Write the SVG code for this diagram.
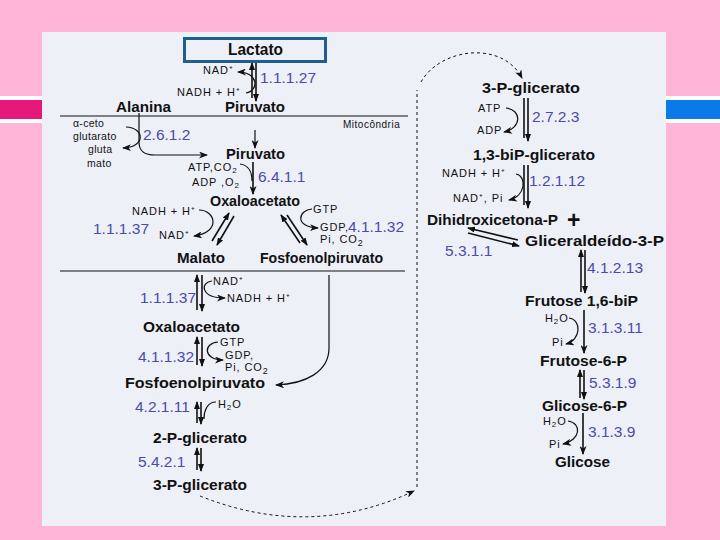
<svg xmlns="http://www.w3.org/2000/svg" width="720" height="540" viewBox="0 0 720 540">
<defs>
<style>
text{font-family:"Liberation Sans",Arial,sans-serif}
.b{font-weight:bold;font-size:15px;fill:#111}
.s{font-size:11px;letter-spacing:0.9px;fill:#111}
.ec{font-size:15.5px;fill:#4b4bab}
.ln{stroke:#111;stroke-width:1.2;fill:none}
.rx{stroke:#111;stroke-width:1.6;fill:none}
.ds{stroke:#111;stroke-width:1;fill:none;stroke-dasharray:3,3}
</style>
<marker id="a" markerUnits="userSpaceOnUse" markerWidth="9" markerHeight="7" refX="8" refY="3.5" orient="auto">
<path d="M0,0 L9,3.5 L0,7 L2.5,3.5 z" fill="#111"/>
</marker>
<marker id="h" markerUnits="userSpaceOnUse" markerWidth="8" markerHeight="6" refX="7" refY="3" orient="auto">
<path d="M0,0 L8,3 L0,6 z" fill="#111"/>
</marker>
</defs>
<g id="background">
<rect x="0" y="0" width="720" height="540" fill="#ffb5d8"/>
<rect x="0" y="96" width="720" height="27" fill="#ffffff"/>
<rect x="0" y="100" width="42" height="19" fill="#e6197a"/>
<rect x="666" y="100" width="54" height="19" fill="#0a7be6"/>
<rect x="42" y="32" width="624" height="494" fill="#eef0f8"/>
</g>
<g id="compartments">
<line x1="60" y1="116" x2="408" y2="116" stroke="#111" stroke-width="1.2"/>
<line x1="60" y1="271" x2="405" y2="271" stroke="#111" stroke-width="1.2"/>
<text class="s" x="343" y="128" style="font-size:10px;letter-spacing:0.5px">Mitocôndria</text>
</g>
<g id="connectors">
<line class="rx" x1="252" y1="98" x2="252" y2="63" marker-end="url(#h)"/>
<line class="rx" x1="256" y1="63" x2="256" y2="101" marker-end="url(#h)"/>
<path class="ln" d="M246,93 C259,91 259,72 238,72" marker-end="url(#a)"/>
<path class="ln" d="M139,113 L139,142 C139,152 145,155 155,155 L207,155" marker-end="url(#a)"/>
<path class="ln" d="M126,127 C145,128 146,147 123,148" marker-end="url(#a)"/>
<line class="ln" x1="255" y1="130" x2="255" y2="148" marker-end="url(#a)"/>
<line class="rx" x1="253" y1="162" x2="253" y2="194" stroke-width="2" marker-end="url(#a)"/>
<path class="ln" d="M240,164 C249,165 252,173 252,181"/>
<line class="rx" x1="212" y1="241" x2="229" y2="213" marker-end="url(#h)"/>
<line class="rx" x1="234" y1="216" x2="217" y2="245" marker-end="url(#h)"/>
<path class="ln" d="M199,210 C215,210 222,232 194,236" marker-end="url(#a)"/>
<line class="rx" x1="300" y1="243" x2="281" y2="215" marker-end="url(#h)"/>
<line class="rx" x1="287" y1="215" x2="307" y2="245" marker-end="url(#h)"/>
<path class="ln" d="M312,209 C298,210 294,227 318,228" marker-end="url(#a)"/>
<line class="rx" x1="197" y1="310" x2="197" y2="275" marker-end="url(#h)"/>
<line class="rx" x1="202" y1="275" x2="202" y2="311" marker-end="url(#h)"/>
<path class="ln" d="M212,281 C200,282 200,298 225,298" marker-end="url(#a)"/>
<line class="rx" x1="197" y1="365" x2="197" y2="337" marker-end="url(#h)"/>
<line class="rx" x1="202" y1="337" x2="202" y2="366" marker-end="url(#h)"/>
<path class="ln" d="M218,342 C203,343 203,360 223,360" marker-end="url(#a)"/>
<path class="ln" d="M329,275 L329,348 C329,372 305,384 276,385" marker-end="url(#a)"/>
<line class="rx" x1="197" y1="423" x2="197" y2="402" marker-end="url(#h)"/>
<line class="rx" x1="201" y1="402" x2="201" y2="424" marker-end="url(#h)"/>
<path class="ln" d="M216,402 C207,402 204,411 204,419"/>
<line class="rx" x1="197" y1="470" x2="197" y2="448" marker-end="url(#h)"/>
<line class="rx" x1="201" y1="448" x2="201" y2="471" marker-end="url(#h)"/>
<path class="ds" d="M200,496 Q310,540 414,491" marker-end="url(#a)"/>
<line class="ds" x1="417" y1="487" x2="417" y2="90"/>
<path class="ds" d="M421,82 C440,48 502,40 522,78" marker-end="url(#a)"/>
<line class="rx" x1="524" y1="138" x2="524" y2="98"/>
<line class="rx" x1="528" y1="98" x2="528" y2="141" marker-end="url(#h)"/>
<path class="ln" d="M506,108 C522,110 522,128 504,132" marker-end="url(#a)"/>
<line class="rx" x1="524" y1="205" x2="524" y2="165"/>
<line class="rx" x1="528" y1="165" x2="528" y2="208" marker-end="url(#h)"/>
<path class="ln" d="M516,174 C527,176 526,196 509,200" marker-end="url(#a)"/>
<line class="rx" x1="518" y1="240" x2="468" y2="228" marker-end="url(#h)"/>
<line class="rx" x1="468" y1="233" x2="519" y2="246" marker-end="url(#h)"/>
<line class="rx" x1="581" y1="292" x2="581" y2="250" marker-end="url(#h)"/>
<line class="rx" x1="585" y1="250" x2="585" y2="293" marker-end="url(#h)"/>
<line class="rx" x1="584" y1="310" x2="584" y2="353" marker-end="url(#a)"/>
<path class="ln" d="M569,318 C582,320 581,340 566,344" marker-end="url(#a)"/>
<line class="rx" x1="580" y1="398" x2="580" y2="370" marker-end="url(#h)"/>
<line class="rx" x1="584" y1="370" x2="584" y2="399" marker-end="url(#h)"/>
<line class="rx" x1="583" y1="413" x2="583" y2="454" marker-end="url(#a)"/>
<path class="ln" d="M568,421 C582,423 581,440 563,444" marker-end="url(#a)"/>
</g>
<g id="lactato"><rect x="184.5" y="38.5" width="141" height="23" fill="none" stroke="#1f5f8f" stroke-width="3"/><text class="b" x="228" y="55" textLength="55" lengthAdjust="spacingAndGlyphs" style="font-size:16px">Lactato</text></g>
<g id="alanina"><text class="b" x="116" y="112" textLength="55" lengthAdjust="spacingAndGlyphs">Alanina</text></g>
<g id="piruvato-c"><text class="b" x="225" y="112" textLength="60" lengthAdjust="spacingAndGlyphs">Piruvato</text></g>
<g id="piruvato-m"><text class="b" x="226" y="159" textLength="59" lengthAdjust="spacingAndGlyphs">Piruvato</text></g>
<g id="oxaloacetato-m"><text class="b" x="210" y="206" textLength="90" lengthAdjust="spacingAndGlyphs">Oxaloacetato</text></g>
<g id="malato"><text class="b" x="177" y="263" textLength="48" lengthAdjust="spacingAndGlyphs">Malato</text></g>
<g id="pep-m"><text class="b" x="260" y="263" textLength="123" lengthAdjust="spacingAndGlyphs">Fosfoenolpiruvato</text></g>
<g id="oxaloacetato-c"><text class="b" x="143" y="332" textLength="97" lengthAdjust="spacingAndGlyphs">Oxaloacetato</text></g>
<g id="pep-c"><text class="b" x="125" y="388" textLength="140" lengthAdjust="spacingAndGlyphs">Fosfoenolpiruvato</text></g>
<g id="pg2"><text class="b" x="153" y="443" textLength="94" lengthAdjust="spacingAndGlyphs">2-P-glicerato</text></g>
<g id="pg3-l"><text class="b" x="153" y="490" textLength="94" lengthAdjust="spacingAndGlyphs">3-P-glicerato</text></g>
<g id="pg3-r"><text class="b" x="482" y="93" textLength="98" lengthAdjust="spacingAndGlyphs">3-P-glicerato</text></g>
<g id="bpg"><text class="b" x="473" y="160" textLength="122" lengthAdjust="spacingAndGlyphs">1,3-biP-glicerato</text></g>
<g id="dhap"><text class="b" x="427" y="225" textLength="131" lengthAdjust="spacingAndGlyphs">Dihidroxicetona-P</text><text class="b" x="567" y="228" style="font-size:23px">+</text></g>
<g id="g3p"><text class="b" x="525" y="246" textLength="139" lengthAdjust="spacingAndGlyphs">Gliceraldeído-3-P</text></g>
<g id="f16bp"><text class="b" x="525" y="306" textLength="113" lengthAdjust="spacingAndGlyphs">Frutose 1,6-biP</text></g>
<g id="f6p"><text class="b" x="540" y="366" textLength="87" lengthAdjust="spacingAndGlyphs">Frutose-6-P</text></g>
<g id="g6p"><text class="b" x="542" y="411" textLength="85" lengthAdjust="spacingAndGlyphs">Glicose-6-P</text></g>
<g id="glicose"><text class="b" x="555" y="467" textLength="55" lengthAdjust="spacingAndGlyphs">Glicose</text></g>
<g id="cofactors">
<text class="s" x="203" y="74">NAD⁺</text>
<text class="s" x="177" y="96">NADH + H⁺</text>
<text class="s" x="73" y="127" style="font-size:10.5px;letter-spacing:0.3px">α-ceto</text>
<text class="s" x="73" y="140" style="font-size:10.5px;letter-spacing:0.3px">glutarato</text>
<text class="s" x="88" y="153" style="font-size:10.5px;letter-spacing:0.3px">gluta</text>
<text class="s" x="87" y="167" style="font-size:10.5px;letter-spacing:0.3px">mato</text>
<text class="s" x="188" y="171">ATP,CO<tspan dy="2" style="font-size:8px">2</tspan></text>
<text class="s" x="192" y="186">ADP ,O<tspan dy="2" style="font-size:8px">2</tspan></text>
<text class="s" x="313" y="213">GTP</text>
<text class="s" x="132" y="215">NADH + H⁺</text>
<text class="s" x="159" y="239">NAD⁺</text>
<text class="s" x="320" y="231">GDP,</text>
<text class="s" x="320" y="243">Pi, CO<tspan dy="3" style="font-size:9px">2</tspan></text>
<text class="s" x="213" y="285">NAD⁺</text>
<text class="s" x="227" y="302">NADH + H⁺</text>
<text class="s" x="220" y="346">GTP</text>
<text class="s" x="225" y="359">GDP,</text>
<text class="s" x="225" y="371">Pi, CO<tspan dy="3" style="font-size:9px">2</tspan></text>
<text class="s" x="218" y="408">H<tspan dy="2" style="font-size:8px">2</tspan><tspan dy="-2">O</tspan></text>
<text class="s" x="478" y="112">ATP</text>
<text class="s" x="477" y="134">ADP</text>
<text class="s" x="442" y="177">NADH + H⁺</text>
<text class="s" x="453" y="202">NAD⁺, Pi</text>
<text class="s" x="545" y="322">H<tspan dy="2" style="font-size:8px">2</tspan><tspan dy="-2">O</tspan></text>
<text class="s" x="552" y="346">Pi</text>
<text class="s" x="543" y="425">H<tspan dy="2" style="font-size:8px">2</tspan><tspan dy="-2">O</tspan></text>
<text class="s" x="549" y="448">Pi</text>
</g>
<g id="enzymes">
<text class="ec" x="260" y="83">1.1.1.27</text>
<text class="ec" x="143" y="140">2.6.1.2</text>
<text class="ec" x="258" y="182">6.4.1.1</text>
<text class="ec" x="93" y="234">1.1.1.37</text>
<text class="ec" x="348" y="232">4.1.1.32</text>
<text class="ec" x="140" y="303">1.1.1.37</text>
<text class="ec" x="138" y="362">4.1.1.32</text>
<text class="ec" x="135" y="412">4.2.1.11</text>
<text class="ec" x="138" y="467">5.4.2.1</text>
<text class="ec" x="532" y="122">2.7.2.3</text>
<text class="ec" x="529" y="186">1.2.1.12</text>
<text class="ec" x="445" y="256">5.3.1.1</text>
<text class="ec" x="587" y="273">4.1.2.13</text>
<text class="ec" x="588" y="333">3.1.3.11</text>
<text class="ec" x="589" y="388">5.3.1.9</text>
<text class="ec" x="588" y="437">3.1.3.9</text>
</g>
</svg>
